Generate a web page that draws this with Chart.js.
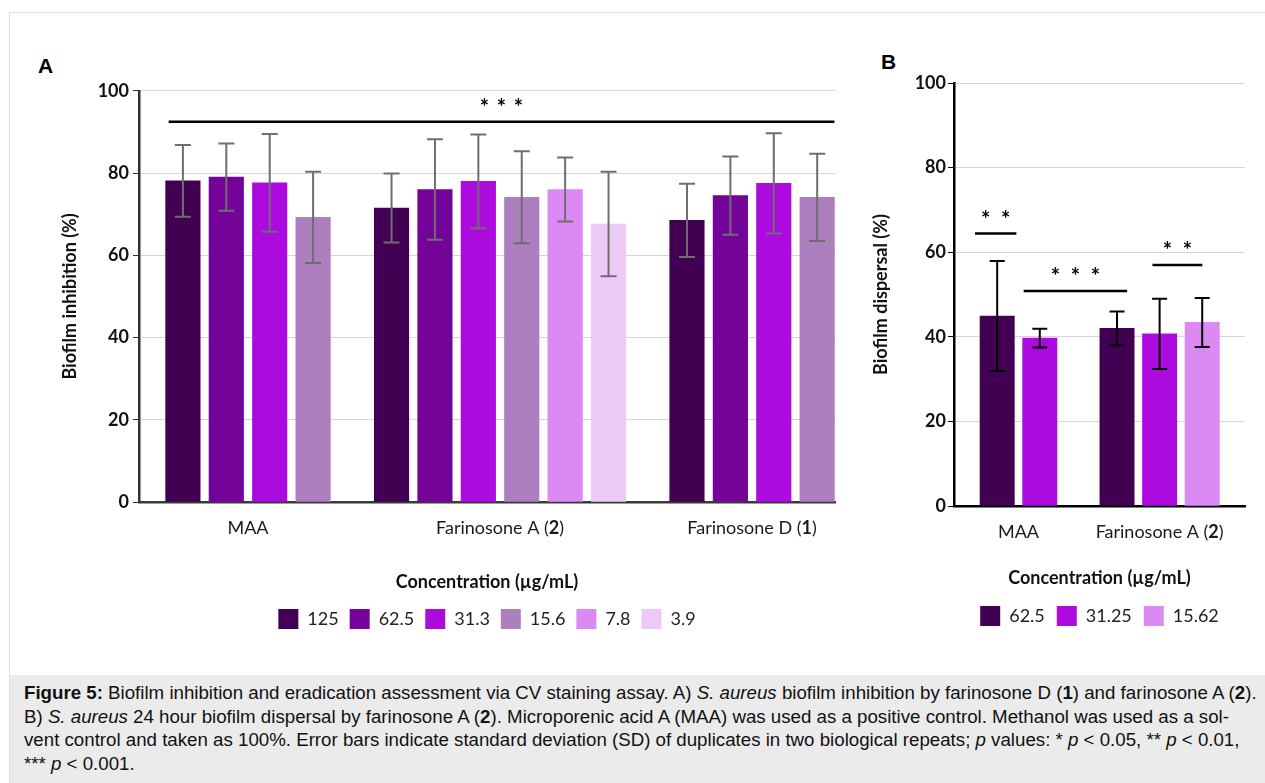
<!DOCTYPE html>
<html>
<head>
<meta charset="utf-8">
<title>Figure 5</title>
<script src="https://cdn.jsdelivr.net/npm/chart.js@4.4.1/dist/chart.umd.min.js"></script>
<style>
  html, body { margin: 0; padding: 0; background: #fff; }
  #page { position: relative; width: 1265px; height: 783px; overflow: hidden; }
  #frame { position: absolute; left: 9px; top: 12px; width: 1280px; height: 800px; border: 1px solid #dedede; box-sizing: border-box; }
  .wrap { position: absolute; }
  #wrapA { left: 20px; top: 76px; width: 840px; height: 563px; }
  #wrapB { left: 865px; top: 50px; width: 400px; height: 586px; }
  .letter { position: absolute; font: bold 21px "Liberation Sans", Arial, sans-serif; color: #000; line-height: 1; }
  #caption {
    position: absolute; left: 10px; top: 675px; width: 1255px; height: 108px;
    background: #ebebeb; box-sizing: border-box; padding: 6px 0 0 14px;
    font: 18.7px/23.6px "Liberation Sans", Arial, sans-serif; color: #111; white-space: nowrap;
  }
</style>
</head>
<body>
<div id="page">
  <div id="frame"></div>
  <div class="letter" style="left:38px; top:55px;">A</div>
  <div class="letter" style="left:881px; top:51px;">B</div>
  <div class="wrap" id="wrapA"><canvas id="chartA"></canvas></div>
  <div class="wrap" id="wrapB"><canvas id="chartB"></canvas></div>
  <div id="caption">
    <b>Figure 5:</b> Biofilm inhibition and eradication assessment via CV staining assay. A) <i>S. aureus</i> biofilm inhibition by farinosone D (<b>1</b>) and farinosone A (<b>2</b>).<br>
    B) <i>S. aureus</i> 24 hour biofilm dispersal by farinosone A (<b>2</b>). Microporenic acid A (MAA) was used as a positive control. Methanol was used as a sol-<br>
    vent control and taken as 100%. Error bars indicate standard deviation (SD) of duplicates in two biological repeats; <i>p</i> values: * <i>p</i> &lt; 0.05, ** <i>p</i> &lt; 0.01,<br>
    *** <i>p</i> &lt; 0.001.
  </div>
</div>
<script>
// ---- panel A: biofilm inhibition (%)
const groupsA = ["MAA", "Farinosone A (2)", "Farinosone D (1)"];
const concA = ["125", "62.5", "31.3", "15.6", "7.8", "3.9"];
const inhib125 = [78.1, 71.5, 68.5];
const inhib62_5 = [79.0, 76.0, 74.5];
const inhib31_3 = [77.6, 78.0, 77.5];
const inhib15_6 = [69.2, 74.1, 74.1];
const inhib7_8 = [null, 76.0, null];
const inhib3_9 = [null, 67.6, null];
const sd125 = [8.7, 8.4, 8.9];
const sd62_5 = [8.2, 12.2, 9.5];
const sd31_3 = [11.9, 11.4, 12.2];
const sd15_6 = [11.1, 11.2, 10.6];
const sd7_8 = [null, 7.8, null];
const sd3_9 = [null, 12.7, null];

// ---- panel B: biofilm dispersal (%)
const groupsB = ["MAA", "Farinosone A (2)"];
const concB = ["62.5", "31.25", "15.62"];
const disp62_5 = [44.9, 42.0];
const disp31_25 = [39.7, 40.7];
const disp15_62 = [null, 43.4];
const sdB62_5 = [13.0, 4.0];
const sdB31_25 = [2.2, 8.3];
const sdB15_62 = [null, 5.8];

const yTicks = [0, 20, 40, 60, 80, 100];

const colorsA = ["#420052", "#730399", "#ad0ae0", "#ae7fbf", "#dc8af3", "#eccaf6"];
const colorsB = ["#420052", "#ad0ae0", "#dc8af3"];

Chart.defaults.font.family = "Lato, 'Open Sans', sans-serif";
Chart.defaults.color = "#111";

// error bars, drawn from each dataset's sd list
const errorBars = {
  id: "errorBars",
  afterDatasetsDraw(chart, args, opts) {
    const ctx = chart.ctx;
    const y = chart.scales.y;
    ctx.save();
    ctx.strokeStyle = opts.color;
    ctx.lineWidth = opts.width;
    chart.data.datasets.forEach((ds, d) => {
      chart.getDatasetMeta(d).data.forEach((bar, i) => {
        const v = ds.data[i].y;
        const e = ds.sd[i];
        if (v == null || e == null) return;
        const top = y.getPixelForValue(v + e);
        const bot = y.getPixelForValue(v - e);
        const h = opts.cap / 2;
        ctx.beginPath();
        ctx.moveTo(bar.x, top); ctx.lineTo(bar.x, bot);
        ctx.moveTo(bar.x - h, top); ctx.lineTo(bar.x + h, top);
        ctx.moveTo(bar.x - h, bot); ctx.lineTo(bar.x + h, bot);
        ctx.stroke();
      });
    });
    ctx.restore();
  }
};

// significance brackets spanning bars, with stars above
const sigLines = {
  id: "sigLines",
  afterDatasetsDraw(chart, args, opts) {
    const ctx = chart.ctx;
    const y = chart.scales.y;
    const edge = (ref, side) => {
      const b = chart.getDatasetMeta(ref[0]).data[ref[1]];
      return b.x + side * b.width / 2;
    };
    ctx.save();
    opts.items.forEach(it => {
      const x0 = edge(it.from, -1) + it.inset[0];
      const x1 = edge(it.to, 1) - it.inset[1];
      const yy = y.getPixelForValue(it.value);
      ctx.strokeStyle = "#000";
      ctx.lineWidth = 2.5;
      ctx.beginPath();
      ctx.moveTo(x0, yy); ctx.lineTo(x1, yy);
      ctx.stroke();
      ctx.fillStyle = "#000";
      ctx.font = "bold 22px Lato";
      ctx.textAlign = "center";
      ctx.textBaseline = "alphabetic";
      const mid = (x0 + x1) / 2;
      for (let s = 0; s < it.stars; s++) {
        ctx.fillText("*", mid + (s - (it.stars - 1) / 2) * opts.spacing, yy - 7);
      }
    });
    ctx.restore();
  }
};

// category names under each group, compound number in bold
const groupLabels = {
  id: "groupLabels",
  afterDraw(chart, args, opts) {
    const ctx = chart.ctx;
    const x = chart.scales.x;
    const yy = chart.chartArea.bottom + opts.gap;
    ctx.save();
    ctx.fillStyle = "#1a1a1a";
    ctx.textBaseline = "middle";
    ctx.textAlign = "left";
    chart.data.labels.forEach((lab, i) => {
      const m = lab.match(/^(.*\()(\d+)(\).*)$/);
      const parts = m ? [[m[1], ""], [m[2], "bold "], [m[3], ""]] : [[lab, ""]];
      let w = 0;
      parts.forEach(p => { ctx.font = p[1] + "18px Lato"; w += ctx.measureText(p[0]).width; });
      let cx = x.getPixelForValue(i) - w / 2;
      parts.forEach(p => {
        ctx.font = p[1] + "18px Lato";
        ctx.fillText(p[0], cx, yy);
        cx += ctx.measureText(p[0]).width;
      });
    });
    ctx.restore();
  }
};

function makeDatasets(names, series, sds, colors, slot, width) {
  return names.map((name, k) => ({
    label: name,
    data: series[k].map((v, i) => ({ x: i, y: v })),
    sd: sds[k],
    backgroundColor: colors[k],
    borderWidth: 0,
    barThickness: slot,
    maxBarThickness: width,
    skipNull: true
  }));
}

function yScale(title, width, titlePad, tickPad, borderColor) {
  return {
    min: 0, max: 100,
    afterBuildTicks: s => { s.ticks = yTicks.map(v => ({ value: v })); },
    ticks: { font: { size: 18, weight: "bold" }, color: "#111", padding: tickPad },
    grid: { color: "#d6d6d6", lineWidth: 1, tickColor: borderColor, tickLength: 6 },
    border: { color: borderColor, width: 2.5 },
    title: { display: true, text: title, font: { size: 18, weight: "bold" }, color: "#111", padding: { top: titlePad, bottom: 0 } },
    afterFit: s => { s.width = width; }
  };
}

function xScale(groups, min, max, height, borderColor) {
  return {
    type: "linear", min: min, max: max, offset: false,
    afterBuildTicks: s => { s.ticks = groups.map((g, i) => ({ value: i })); },
    ticks: { display: false },
    grid: { display: false },
    border: { color: borderColor, width: 2.5 },
    title: { display: true, text: "Concentration (µg/mL)", font: { size: 18, weight: "bold" }, color: "#111", padding: { top: 0, bottom: 5 } },
    afterFit: s => { s.height = height; }
  };
}

function legendOpts(pad) {
  return {
    position: "bottom",
    fullSize: false,
    labels: { boxWidth: 20, boxHeight: 20, padding: pad, font: { size: 18 }, color: "#222" }
  };
}

new Chart(document.getElementById("chartA"), {
  type: "bar",
  data: {
    labels: groupsA,
    datasets: makeDatasets(concA,
      [inhib125, inhib62_5, inhib31_3, inhib15_6, inhib7_8, inhib3_9],
      [sd125, sd62_5, sd31_3, sd15_6, sd7_8, sd3_9],
      colorsA, 43.4, 34.5)
  },
  options: {
    responsive: true,
    maintainAspectRatio: false,
    animation: false,
    layout: { padding: { top: 11, right: 25, left: 0, bottom: 0 } },
    scales: {
      x: xScale(groupsA, -0.4325, 2.329, 96, "#3a3a3a"),
      y: yScale("Biofilm inhibition (%)", 119, 39, 4, "#333")
    },
    plugins: {
      legend: legendOpts(11),
      tooltip: { enabled: false },
      errorBars: { color: "#6e6e6e", width: 2, cap: 16 },
      sigLines: { spacing: 17, items: [{ from: [0, 0], to: [3, 2], inset: [3, 0], value: 92.5, stars: 3 }] },
      groupLabels: { gap: 26 }
    }
  },
  plugins: [errorBars, sigLines, groupLabels]
});

new Chart(document.getElementById("chartB"), {
  type: "bar",
  data: {
    labels: groupsB,
    datasets: makeDatasets(concB,
      [disp62_5, disp31_25, disp15_62],
      [sdB62_5, sdB31_25, sdB15_62],
      colorsB, 42.6, 34.3)
  },
  options: {
    responsive: true,
    maintainAspectRatio: false,
    animation: false,
    layout: { padding: { top: 33, right: 20, left: 0, bottom: 0 } },
    scales: {
      x: xScale(groupsB, -0.457, 1.605, 88, "#000"),
      y: yScale("Biofilm dispersal (%)", 89, 5, 2, "#000")
    },
    plugins: {
      legend: legendOpts(12),
      tooltip: { enabled: false },
      errorBars: { color: "#000", width: 2, cap: 15 },
      sigLines: {
        spacing: 20,
        items: [
          { from: [0, 0], to: [0, 0], inset: [-5, -2], value: 64.4, stars: 2 },
          { from: [1, 0], to: [0, 1], inset: [1, 7], value: 50.8, stars: 3 },
          { from: [1, 1], to: [2, 1], inset: [10, 17], value: 57.0, stars: 2 }
        ]
      },
      groupLabels: { gap: 26 }
    }
  },
  plugins: [errorBars, sigLines, groupLabels]
});
</script>
</body>
</html>
